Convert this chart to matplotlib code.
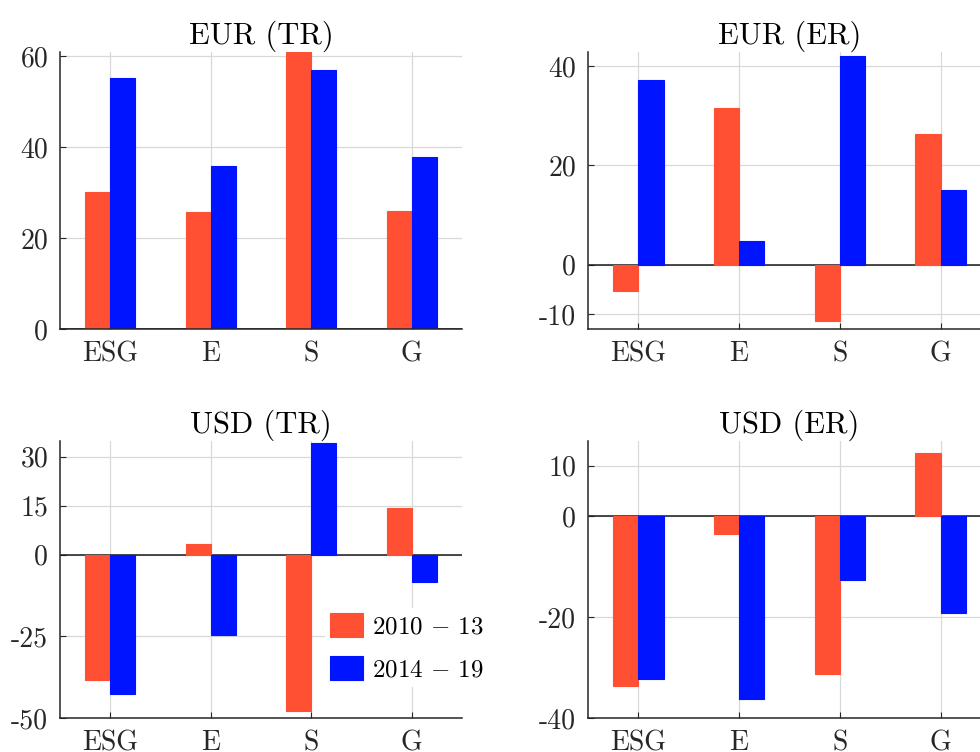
import numpy as np
import matplotlib
matplotlib.use("Agg")
import matplotlib.pyplot as plt

plt.rcParams.update({
    "font.family": "serif",
    "font.serif": ["cmr10"],
    "mathtext.fontset": "cm",
    "axes.unicode_minus": False,
    "axes.formatter.use_mathtext": True,
})

categories = ["ESG", "E", "S", "G"]
periods = [r"$2010\,-\,13$", r"$2014\,-\,19$"]

eur_tr_early = [30.1, 25.8, 60.8, 26.0]
eur_tr_late = [55.2, 35.8, 57.0, 37.9]
eur_er_early = [-5.4, 31.5, -11.4, 26.4]
eur_er_late = [37.2, 4.8, 42.1, 15.0]
usd_tr_early = [-38.3, 3.4, -47.9, 14.3]
usd_tr_late = [-42.6, -24.5, 34.1, -8.3]
usd_er_early = [-33.6, -3.6, -31.2, 12.5]
usd_er_late = [-32.2, -36.2, -12.6, -19.1]

titles = ["EUR (TR)", "EUR (ER)", "USD (TR)", "USD (ER)"]
yticks = [[0, 20, 40, 60], [-10, 0, 20, 40], [-50, -25, 0, 15, 30], [-40, -20, 0, 10]]
ylims = [(0, 60.9), (-13.0, 42.9), (-50, 34.8), (-40, 14.9)]

RED = "#FF5033"
BLUE = "#0014FF"
DARK = "#262626"

W, H = 980, 752
fig = plt.figure(figsize=(W / 100, H / 100), dpi=100)

def px_axes(x0, x1, ytop, ybot):
    return fig.add_axes([x0 / W, 1 - ybot / H, (x1 - x0) / W, (ybot - ytop) / H])

axes = [
    px_axes(60, 462, 52, 329),
    px_axes(588, 991, 52, 329),
    px_axes(60, 462, 441, 718),
    px_axes(588, 991, 441, 718),
]

data = [
    (eur_tr_early, eur_tr_late),
    (eur_er_early, eur_er_late),
    (usd_tr_early, usd_tr_late),
    (usd_er_early, usd_er_late),
]

x = np.arange(1, len(categories) + 1)
w = 0.25
handles = None
for ax, (a, b), title, yt, yl in zip(axes, data, titles, yticks, ylims):
    ax.set_axisbelow(True)
    ax.grid(True, color="#D8D8D8", lw=0.9)
    ax.axhline(0, color="#1a1a1a", lw=1.1, zorder=1.5)
    r = ax.bar(x - w / 2, a, w, color=RED, edgecolor=RED, lw=0.8, zorder=2)
    bl = ax.bar(x + w / 2, b, w, color=BLUE, edgecolor=BLUE, lw=0.8, zorder=2)
    handles = (r, bl)
    ax.set_xlim(0.5, 4.5)
    ax.set_ylim(*yl)
    ax.set_xticks(x)
    ax.set_xticklabels(categories)
    ax.set_yticks(yt)
    ax.set_yticklabels([str(v) for v in yt])
    ax.set_title(title, fontsize=22, pad=6, color="black")
    for s in ("top", "right"):
        ax.spines[s].set_visible(False)
    for s in ("left", "bottom"):
        ax.spines[s].set_color(DARK)
        ax.spines[s].set_linewidth(1.1)
    ax.tick_params(direction="in", length=4, width=0.8, color=DARK,
                   labelsize=20, labelcolor=DARK, pad=8.5)

leg = axes[2].legend(handles, periods, loc="upper left",
                     bbox_to_anchor=(325 / W, 1 - 608 / H),
                     bbox_transform=fig.transFigure,
                     fontsize=18, frameon=True, fancybox=False,
                     framealpha=1, facecolor="white", edgecolor="none",
                     borderpad=0.2, handlelength=1.3, handleheight=1.1,
                     handletextpad=0.4, labelspacing=0.7, borderaxespad=0)
leg.set_zorder(5)

fig.savefig("out.png", dpi=100)
